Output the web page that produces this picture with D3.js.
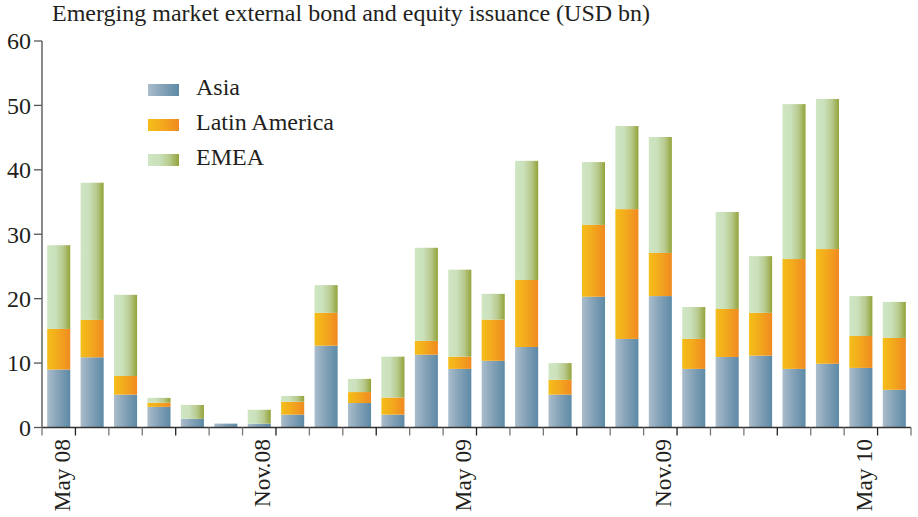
<!DOCTYPE html>
<html><head><meta charset="utf-8">
<script src="https://cdn.jsdelivr.net/npm/d3@7"></script>
<style>body{margin:0;background:#fff}</style>
</head><body><svg id="c" width="918" height="517"></svg>
<script>
const months = ["May 08","Jun 08","Jul 08","Aug 08","Sep 08","Oct 08","Nov.08","Dec 08","Jan 09","Feb 09","Mar 09","Apr 09","May 09","Jun 09","Jul 09","Aug 09","Sep 09","Oct 09","Nov.09","Dec 09","Jan 10","Feb 10","Mar 10","Apr 10","May 10","Jun 10"];
const tickLabels = ["May 08","Nov.08","May 09","Nov.09","May 10"];
const asia  = [9.0,10.9,5.1,3.2,1.35,0.6,0.6,2.0,12.7,3.8,2.0,11.3,9.1,10.35,12.5,5.1,20.3,13.75,20.4,9.1,10.95,11.15,9.1,9.9,9.25,5.85];
const latam = [6.3,5.8,2.9,0.65,0,0,0,2.0,5.1,1.7,2.65,2.15,1.9,6.4,10.4,2.3,11.15,20.15,6.7,4.65,7.45,6.65,17.05,17.8,4.95,8.05];
const emea  = [13.0,21.3,12.6,0.75,2.15,0,2.15,0.9,4.3,2.05,6.35,14.45,13.5,4.0,18.5,2.6,9.75,12.9,18.0,4.95,15.05,8.8,24.05,23.3,6.2,5.6];
const seriesNames = ["Asia","Latin America","EMEA"];
const yTicks = [0,10,20,30,40,50,60];
const title = "Emerging market external bond and equity issuance (USD bn)";

const FONT = "'Liberation Serif', 'DejaVu Serif', 'Times New Roman', serif";
const svg = d3.select("#c").attr("font-family", FONT);
const x0 = 42, x1 = 911, yTop = 41, yBot = 427.5;
const x = d3.scaleBand().domain(months).range([x0, x1]).paddingInner(0.31).paddingOuter(0.155);
const y = d3.scaleLinear().domain([0, 60]).range([yBot, yTop]);

const defs = svg.append("defs");
const grads = [
  {id:"gA", stops:[[0,"#aabdcc"],[0.45,"#86a3b8"],[1,"#5d8aa6"]]},
  {id:"gL", stops:[[0,"#f4be19"],[0.4,"#f3ac1c"],[1,"#f08a21"]]},
  {id:"gE", stops:[[0,"#cfe6c3"],[0.35,"#cbe1bc"],[0.7,"#b7c98c"],[1,"#93a339"]]}
];
grads.forEach(g => {
  const lg = defs.append("linearGradient").attr("id", g.id).attr("x1","0").attr("x2","1").attr("y1","0").attr("y2","0");
  g.stops.forEach(s => lg.append("stop").attr("offset", s[0]).attr("stop-color", s[1]));
});
const fills = ["url(#gA)","url(#gL)","url(#gE)"];

const rows = months.map((m,i) => ({m, Asia: asia[i], "Latin America": latam[i], EMEA: emea[i]}));
const stacked = d3.stack().keys(seriesNames)(rows);

svg.append("g").selectAll("g").data(stacked).join("g")
  .attr("fill", (d,i) => fills[i])
  .selectAll("rect").data(d => d.filter(p => p[1]-p[0] > 0)).join("rect")
  .attr("x", d => x(d.data.m))
  .attr("width", x.bandwidth())
  .attr("y", d => y(d[1]))
  .attr("height", d => y(d[0]) - y(d[1]));

const txt = (sel) => sel.attr("font-family", FONT).attr("fill", "#231f20");

// y axis
svg.append("line").attr("x1", x0).attr("x2", x0).attr("y1", yTop).attr("y2", yBot)
  .attr("stroke", "#8a8a8a").attr("stroke-width", 2);
const yg = svg.append("g");
yTicks.forEach(t => {
  yg.append("line").attr("x1", x0-8).attr("x2", x0).attr("y1", y(t)).attr("y2", y(t)).attr("stroke","#555").attr("stroke-width",1.3);
  yg.append("text").attr("x", x0-11).attr("y", y(t)).attr("dy","0.35em").attr("text-anchor","end")
    .attr("font-size", 24).call(txt).text(t);
});

// x axis
svg.append("line").attr("x1", x0).attr("x2", x1).attr("y1", yBot).attr("y2", yBot).attr("stroke","#333").attr("stroke-width",1.3);
const step = x.step();
const tickXs = d3.range(months.length + 1).map(i => x(months[0]) - x.paddingOuter()*step + i*step);
svg.append("g").selectAll("line").data(tickXs).join("line")
  .attr("x1", d => d).attr("x2", d => d).attr("y1", yBot).attr("y2", yBot + 8)
  .attr("stroke", (d,i) => i % 3 === 1 ? "#222" : "#777").attr("stroke-width", 1.3);
svg.append("g").selectAll("text").data(tickLabels).join("text")
  .attr("transform", d => `translate(${x(d) + x.bandwidth()/2 + 11},439) rotate(-90)`)
  .attr("text-anchor","end").attr("font-size", 23.5).call(txt).text(d => d);

// legend
const lg = svg.append("g");
seriesNames.forEach((s,i) => {
  lg.append("rect").attr("x",148).attr("y",84 + i*35).attr("width",31).attr("height",12).attr("fill",fills[i]);
  lg.append("text").attr("x",196).attr("y",95 + i*35).attr("font-size", 24).call(txt).text(s);
});

svg.append("text").attr("x",52).attr("y",21).attr("font-size", 24).call(txt).text(title);
</script></body></html>
